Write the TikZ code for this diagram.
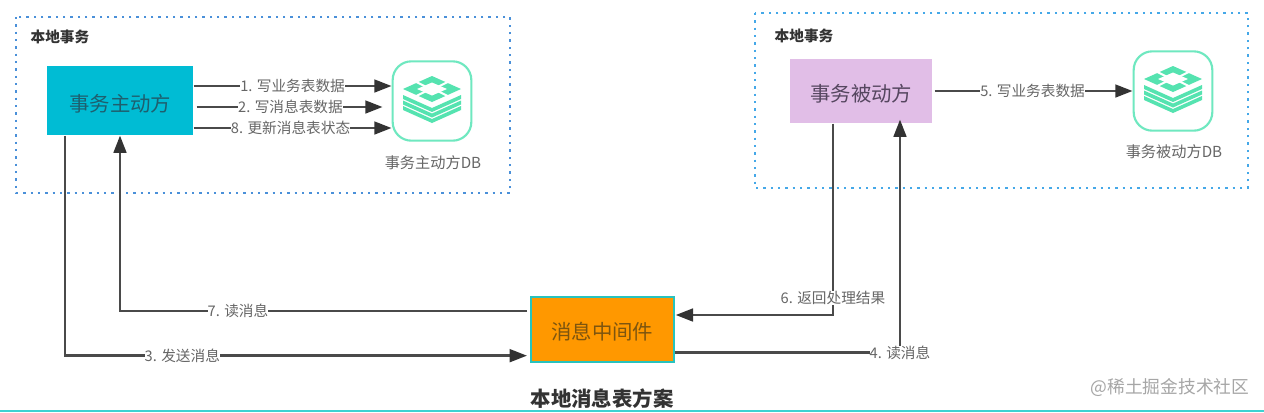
\documentclass[tikz,border=0pt]{standalone}
\usepackage{fontspec}
\setmainfont{Noto Sans CJK SC}
\usetikzlibrary{arrows.meta,calc}
\definecolor{lineC}{HTML}{4A4A4A}
\definecolor{tipC}{HTML}{333333}
\definecolor{labelC}{HTML}{666666}
\definecolor{dbG}{HTML}{6FE8C0}
\definecolor{dbGf}{HTML}{55E3B0}
\definecolor{dashL}{HTML}{4A90D9}
\definecolor{dashR}{HTML}{45A8E8}
\definecolor{aFill}{RGB}{0,188,212}
\definecolor{aText}{RGB}{30,95,110}
\definecolor{bFill}{RGB}{225,190,231}
\definecolor{bText}{RGB}{85,70,95}
\definecolor{mFill}{RGB}{255,152,0}
\definecolor{mDraw}{RGB}{40,195,190}
\definecolor{mText}{RGB}{125,85,15}
\definecolor{rule}{RGB}{60,210,210}
\newcommand{\lowered}[1]{\raisebox{-2pt}[\height][\depth]{#1}}
\tikzset{
  x=0.75pt,y=-0.75pt,
  flow/.style={draw=lineC,line width=2pt,-{Triangle[length=13pt,width=9.5pt,color=tipC]}},
  lbl/.style={fill=white,text=labelC,font=\fontsize{11pt}{12pt}\selectfont,inner sep=0pt},
  region/.style={draw,line width=1.8pt,dash pattern=on 1.8pt off 3.7pt,fill=none},
  regtitle/.style={text=black!80,font=\fontsize{11pt}{12pt}\selectfont\bfseries,inner sep=0},
  actor/.style={anchor=north west,inner sep=0,align=center,font=\fontsize{15.3pt}{18pt}\selectfont},
  dbbox/.style={draw=dbG,line width=1.6pt,rounded corners=14pt,minimum width=59pt,minimum height=59.5pt,inner sep=0,fill=white},
  dblbl/.style={text=labelC,font=\fontsize{11.4pt}{12pt}\selectfont,inner sep=0},
  stack/.pic={
    \fill[dbGf] (-29,-12)--(0,-25)--(29,-12)--(0,1)--cycle;
    \fill[white] (-15,-12)--(0,-18.5)--(15,-12)--(0,-5.5)--cycle;
    \draw[white,line width=1.5pt] (-17,-19.6)--(-5.5,-14) (17,-19.6)--(5.5,-14)
      (-17,-4.4)--(-5.5,-10) (17,-4.4)--(5.5,-10);
    \foreach \k in {0,5.5,11}{
      \fill[dbGf] (-29,-6+\k)--(0,7+\k)--(29,-6+\k)--(29,-2+\k)--(0,11+\k)--(-29,-2+\k)--cycle;
    }
  }
}
\begin{document}
\begin{tikzpicture}
\useasboundingbox (0,0) rectangle (1264,412);
\fill[white] (0,0) rectangle (1264,412);
% regions
\draw[region,draw=dashL] (16,17) rectangle (510,193);
\draw[region,draw=dashR] (755,13) rectangle (1248,188);
\node[regtitle] (t1) at (60,37) {本地事务};
\node[regtitle] (t2) at (804,36) {本地事务};
% actors
\node[actor,fill=aFill,text=aText,minimum width=109.5pt,minimum height=51.75pt] (A) at (47,66) {\lowered{事务主动方}};
\node[actor,fill=bFill,text=bText,minimum width=106.5pt,minimum height=48pt] (B) at (790,59) {\lowered{事务被动方}};
\node[actor,fill=mFill,draw=mDraw,line width=1.5pt,text=mText,minimum width=107pt,minimum height=48.5pt] (M) at (530,296) {\lowered{消息中间件}};
% databases
\node[dbbox] (db1) at (432,101) {};
\pic at (432,101) {stack};
\node[dblbl] (dl1) at (433,163) {事务主动方DB};
\node[dbbox] (db2) at (1173,91) {};
\pic at (1173,91) {stack};
\node[dblbl] (dl2) at (1174,152) {事务被动方DB};
% write arrows
\draw[flow] ($(A.north east)+(0,20)$) -- node[lbl,pos=0.5] (l1) {1. 写业务表数据} ($(db1.west)+(0,-15)$);
\draw[flow] ($(A.north east)+(3,41)$) -- node[lbl,pos=0.505] (l2) {2. 写消息表数据} ($(db1.west)+(-9,6)$);
\draw[flow] ($(A.north east)+(0,62)$) -- node[lbl,pos=0.49] (l8) {8. 更新消息表状态} ($(db1.west)+(0,27)$);
\draw[flow] ($(B.north east)+(2,32)$) -- node[lbl,pos=0.495] (l5) {5. 写业务表数据} (db2.west);
% long routes
\draw[flow] ($(A.south west)+(18,0)$) |- node[lbl,pos=0.627] (l3) {3. 发送消息} ($(M.south west)+(-3,-7)$);
\draw[flow] ($(M.north west)+(-3,15)$) -| node[lbl,pos=0.355] (l7) {7. 读消息} ($(A.south west)+(73,0)$);
\draw[flow] ($(B.south west)+(43,0)$) |- node[lbl,pos=0.456] (l6) {6. 返回处理结果} ($(M.north east)+(1,19)$);
\draw[flow] ($(M.south east)+(0,-10)$) -| node[lbl,pos=0.5] (l4) {4. 读消息} ($(B.south west)+(110,-4)$);
% caption
\node[inner sep=0,text=black!80,font=\fontsize{15.3pt}{18pt}\selectfont\bfseries] (cap) at (602,399) {本地消息表方案};
\node[inner sep=0,text=black!35,font=\fontsize{13.3pt}{15pt}\selectfont] (wm) at (1170,387) {@稀土掘金技术社区};
\fill[rule] (0,410) rectangle (1264,412);
\end{tikzpicture}
\end{document}
